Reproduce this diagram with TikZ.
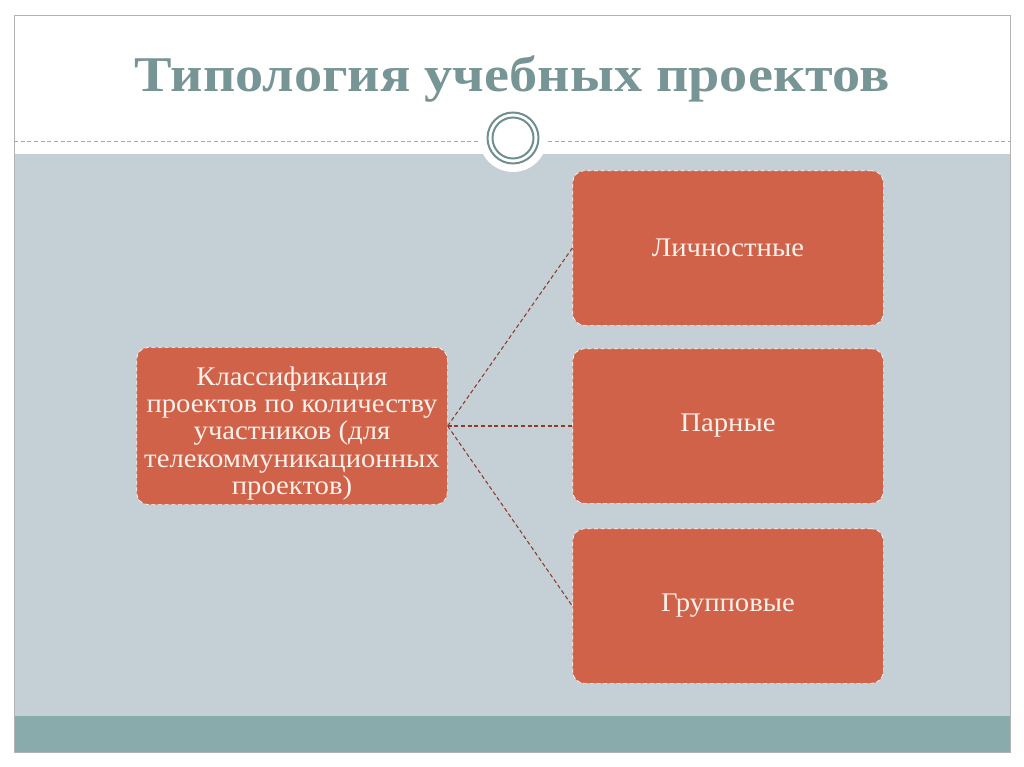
\documentclass[tikz,border=0pt]{standalone}
\usepackage{fontspec}
\setmainfont{Liberation Serif}
\usepackage{xcolor}
\usepackage{tikz}
\usetikzlibrary{positioning}

\definecolor{bodygrey}{HTML}{C5D0D6}
\definecolor{footteal}{HTML}{8AABAB}
\definecolor{titleteal}{HTML}{789595}
\definecolor{ringteal}{HTML}{6F8E8E}
\definecolor{boxred}{HTML}{D0624A}
\definecolor{linkred}{HTML}{8E3B2E}
\definecolor{textcream}{HTML}{FCF1EA}

\tikzset{
  typebox/.style={draw=white, densely dashed, line width=0.5pt, fill=boxred, rounded corners=9pt,
    minimum width=233pt, minimum height=116pt, text=textcream, align=center,
    font=\fontsize{20.2}{20.5}\selectfont\addfontfeatures{FakeStretch=1.065}},
  link/.style={draw=linkred, densely dashed, line width=0.8pt}
}

\begin{document}
\begin{tikzpicture}[x=0.75pt,y=-0.75pt]
    \useasboundingbox (0,0) rectangle (1024,767);
    \fill [white] (0,0) rectangle (1024,767);
    \fill [bodygrey] (14,154) rectangle (1010,716);
    \fill [footteal] (14,716) rectangle (1010,752);
    \draw [gray!60, line width=0.6pt] (14,15) rectangle (1010,752);
    \draw [ringteal!70, densely dashed, line width=0.5pt] (14,141) -- (478,141);
    \draw [ringteal!70, densely dashed, line width=0.5pt] (548,141) -- (1010,141);
    \fill [white] (513,138) circle (34);
    \draw [ringteal, line width=1.5pt] (513,138) circle (25.5);
    \draw [ringteal, line width=1.5pt] (513,138) circle (20.5);
    \node (title) [text=titleteal, font=\fontsize{37.5}{40}\selectfont\bfseries\addfontfeatures{FakeStretch=1.125}] at (512,79) {Типология учебных проектов};

    \node (klass) [typebox] at (292,426) {\rule{0pt}{25pt}Классификация\\проектов по количеству\\участников (для\\телекоммуникационных\\проектов)};
    \node (lich) [typebox] at (728,248) {Личностные};
    \node (par) [typebox] at (728,426) {Парные};
    \node (grup) [typebox] at (728,606) {Групповые};

    \draw [link] (klass.east) -- (lich.west);
    \draw [link] (klass.east) -- (par.west);
    \draw [link] (klass.east) -- (grup.west);
\end{tikzpicture}
\end{document}
